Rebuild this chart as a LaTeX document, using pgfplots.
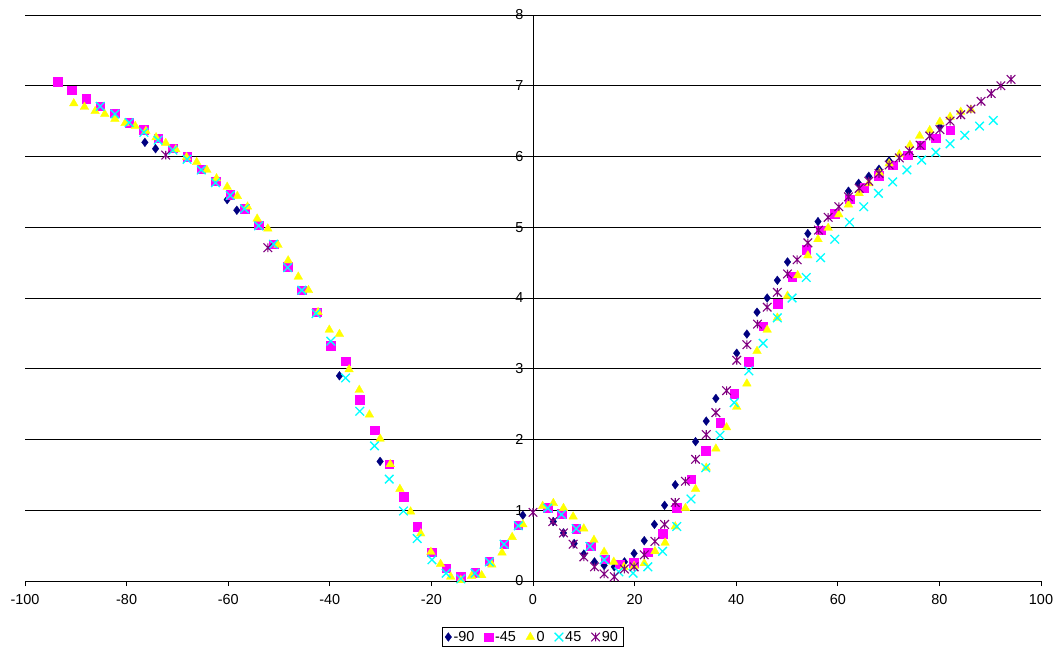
\documentclass[border=0pt]{standalone}
\usepackage{fontspec}
\setmainfont{Liberation Sans}
\usepackage{pgfplots}
\pgfplotsset{compat=1.18}
\definecolor{cnavy}{HTML}{000080}
\definecolor{cmag}{HTML}{FF00FF}
\definecolor{cyel}{HTML}{FFFF00}
\definecolor{ccyan}{HTML}{00FFFF}
\definecolor{cpurp}{HTML}{800080}
\pgfdeclareplotmark{xcross}{%
  \pgfpathmoveto{\pgfqpoint{-\pgfplotmarksize}{-\pgfplotmarksize}}%
  \pgfpathlineto{\pgfqpoint{\pgfplotmarksize}{\pgfplotmarksize}}%
  \pgfpathmoveto{\pgfqpoint{-\pgfplotmarksize}{\pgfplotmarksize}}%
  \pgfpathlineto{\pgfqpoint{\pgfplotmarksize}{-\pgfplotmarksize}}%
  \pgfusepathqstroke}
\pgfdeclareplotmark{xstar}{%
  \pgfpathmoveto{\pgfqpoint{-\pgfplotmarksize}{-\pgfplotmarksize}}%
  \pgfpathlineto{\pgfqpoint{\pgfplotmarksize}{\pgfplotmarksize}}%
  \pgfpathmoveto{\pgfqpoint{-\pgfplotmarksize}{\pgfplotmarksize}}%
  \pgfpathlineto{\pgfqpoint{\pgfplotmarksize}{-\pgfplotmarksize}}%
  \pgfpathmoveto{\pgfqpoint{0pt}{-\pgfplotmarksize}}%
  \pgfpathlineto{\pgfqpoint{0pt}{\pgfplotmarksize}}%
  \pgfusepathqstroke}
\begin{document}
\begin{tikzpicture}
\useasboundingbox (-25bp,-70bp) rectangle (1030bp,581bp);
\begin{axis}[
  at={(0,0)}, anchor=south west, scale only axis,
  width=1016bp, height=566bp,
  xmin=-100, xmax=100, ymin=0, ymax=8,
  axis x line=bottom, axis y line=middle,
  hide obscured x ticks=false, hide obscured y ticks=false,
  xtick={-100,-80,-60,-40,-20,0,20,40,60,80,100},
  xticklabels={-100,-80,-60,-40,-20,0,20,40,60,80,100},
  ytick={0,1,2,3,4,5,6,7,8},
  yticklabels={0,1,2,3,4,5,6,7,8},
  ymajorgrids, grid style={black, line width=0.75bp},
  axis line style={black, line width=0.75bp, -},
  tick style={black, line width=0.75bp},
  tick align=outside, major tick length=5bp,
  xticklabel style={font=\fontsize{14.5}{16}\selectfont, yshift=-5bp},
  yticklabel style={font=\fontsize{14.5}{16}\selectfont, xshift=-1bp},
  legend style={at={(0.4995,-0.099)}, anchor=center, legend columns=5,
    draw=black, line width=0.75bp, font=\fontsize{14.5}{16}\selectfont,
    inner xsep=3bp, inner ysep=1.5bp,
    /tikz/every even column/.append style={column sep=8bp}},
]
\addplot[only marks, mark=diamond*, mark size=4.4bp, mark options={draw=cnavy, fill=cnavy, line width=0.3bp}] coordinates {
(-76.4,6.20) (-74.3,6.11) (-60.2,5.39) (-58.3,5.24) (-38.1,2.90) (-30.1,1.69)
(-2.0,0.93) (4.0,0.84) (6.0,0.68) (8.1,0.53) (10.0,0.38) (12.1,0.27) (14.0,0.22)
(16.0,0.20) (18.0,0.27) (19.9,0.39) (21.9,0.57) (23.9,0.80) (25.9,1.07) (28.0,1.36)
(32.0,1.97) (34.1,2.26) (36.0,2.58) (40.1,3.22) (42.1,3.49) (44.1,3.80) (46.1,4.00)
(48.1,4.25) (50.1,4.51) (54.1,4.91) (56.1,5.08) (62.1,5.51) (64.1,5.62) (66.1,5.72)
(68.1,5.82) (70.1,5.94) (80.1,6.42)
};
\addlegendentry{-90}
\addplot[only marks, mark=square*, mark size=4.3bp, mark options={draw=cmag, fill=cmag, line width=0.3bp}] coordinates {
(-93.6,7.06) (-90.8,6.94) (-88.0,6.82) (-85.2,6.71) (-82.3,6.61) (-79.5,6.48)
(-76.6,6.38) (-73.8,6.26) (-70.9,6.12) (-68.1,6.00) (-65.3,5.82) (-62.5,5.65)
(-59.6,5.46) (-56.8,5.26) (-54.0,5.03) (-51.1,4.76) (-48.3,4.44) (-45.5,4.11)
(-42.6,3.80) (-39.8,3.33) (-36.9,3.11) (-34.1,2.56) (-31.2,2.13) (-28.3,1.65)
(-25.5,1.19) (-22.8,0.77) (-19.9,0.41) (-17.1,0.18) (-14.2,0.07) (-11.4,0.12)
(-8.6,0.28) (-5.7,0.52) (-2.9,0.79) (2.9,1.04) (5.6,0.95) (8.5,0.74) (11.3,0.49)
(14.2,0.31) (17.0,0.24) (19.8,0.26) (22.6,0.41) (25.5,0.67) (28.3,1.04) (31.1,1.44)
(34.0,1.84) (36.8,2.24) (39.6,2.65) (42.5,3.10) (45.3,3.60) (48.1,3.92) (51.0,4.30)
(53.8,4.68) (56.6,4.96) (59.4,5.19) (62.3,5.40) (65.2,5.56) (68.0,5.73) (70.8,5.88)
(73.7,6.02) (76.4,6.16) (79.3,6.26) (82.1,6.37)
};
\addlegendentry{-45}
\addplot[only marks, mark=triangle*, mark size=5bp, mark options={draw=cyel, fill=cyel, line width=0.3bp}] coordinates {
(-90.4,6.75) (-88.3,6.70) (-86.2,6.64) (-84.3,6.60) (-82.3,6.53) (-80.3,6.47)
(-78.3,6.43) (-76.2,6.36) (-74.2,6.27) (-72.3,6.19) (-70.3,6.10) (-68.2,5.99)
(-66.2,5.92) (-64.2,5.81) (-62.3,5.69) (-60.2,5.57) (-58.2,5.44) (-56.2,5.29)
(-54.3,5.12) (-52.2,4.98) (-50.2,4.75) (-48.2,4.53) (-46.2,4.30) (-44.2,4.11)
(-42.3,3.80) (-40.1,3.55) (-38.1,3.49) (-36.2,2.99) (-34.2,2.70) (-32.2,2.35)
(-30.1,2.01) (-28.1,1.65) (-26.2,1.30) (-24.1,0.98) (-22.1,0.67) (-20.1,0.41)
(-18.2,0.24) (-16.2,0.06) (-14.2,0.01) (-12.1,0.07) (-10.1,0.08) (-8.1,0.23)
(-6.1,0.40) (-4.1,0.62) (-2.0,0.80) (1.9,1.06) (4.0,1.10) (6.0,1.03) (7.9,0.91)
(10.0,0.74) (12.0,0.58) (14.0,0.41) (15.9,0.27) (17.9,0.20) (19.9,0.21) (21.9,0.25)
(24.0,0.42) (26.0,0.54) (28.0,0.77) (30.0,1.03) (32.0,1.30) (34.1,1.60) (36.0,1.87)
(38.1,2.17) (40.1,2.46) (42.1,2.79) (44.1,3.25) (46.1,3.55) (48.1,3.72) (50.1,4.03)
(52.1,4.32) (54.1,4.60) (56.1,4.83) (58.1,4.99) (60.2,5.18) (62.1,5.32) (64.2,5.48)
(66.1,5.62) (68.2,5.77) (70.1,5.90) (72.1,6.03) (74.2,6.16) (76.1,6.29) (78.1,6.37)
(80.1,6.49) (82.1,6.56) (84.2,6.63) (86.2,6.66)
};
\addlegendentry{0}
\addplot[only marks, mark=xcross, mark size=4.3bp, mark options={draw=ccyan, line width=1.3bp}] coordinates {
(-85.2,6.71) (-82.3,6.60) (-79.5,6.48) (-76.6,6.34) (-73.8,6.23) (-70.9,6.09)
(-68.1,5.96) (-65.3,5.81) (-62.5,5.63) (-59.6,5.45) (-56.8,5.26) (-54.0,5.02)
(-51.1,4.76) (-48.3,4.43) (-45.5,4.11) (-42.7,3.78) (-39.8,3.39) (-36.9,2.87)
(-34.1,2.40) (-31.2,1.91) (-28.3,1.44) (-25.5,0.99) (-22.8,0.60) (-19.9,0.30)
(-17.1,0.11) (-14.2,0.03) (-11.4,0.11) (-8.6,0.27) (-5.7,0.52) (-2.9,0.78)
(2.9,1.03) (5.6,0.94) (8.5,0.74) (11.2,0.49) (14.0,0.30) (16.9,0.13) (19.7,0.11)
(22.6,0.20) (25.5,0.42) (28.3,0.77) (31.1,1.16) (34.0,1.60) (36.8,2.06) (39.6,2.52)
(42.5,2.97) (45.3,3.36) (48.1,3.72) (51.0,4.00) (53.8,4.29) (56.6,4.57) (59.4,4.83)
(62.3,5.07) (65.1,5.29) (68.0,5.48) (70.8,5.64) (73.6,5.81) (76.5,5.95) (79.3,6.06)
(82.1,6.18) (85.0,6.30) (87.9,6.43) (90.6,6.51)
};
\addlegendentry{45}
\addplot[only marks, mark=xstar, mark size=4.3bp, mark options={draw=cpurp, line width=1.1bp}] coordinates {
(-72.3,6.02) (-52.2,4.71) (0.0,0.97) (3.9,0.84) (6.0,0.68) (7.9,0.52) (10.0,0.34)
(12.1,0.20) (14.0,0.10) (16.0,0.06) (18.0,0.17) (19.9,0.20) (21.9,0.37) (24.0,0.56)
(25.9,0.80) (28.0,1.11) (30.0,1.41) (32.0,1.72) (34.1,2.07) (36.0,2.38) (38.1,2.69)
(40.1,3.12) (42.1,3.34) (44.2,3.63) (46.1,3.87) (48.1,4.08) (50.1,4.34) (52.0,4.54)
(54.1,4.78) (56.2,4.96) (58.1,5.14) (60.2,5.29) (62.1,5.43) (64.2,5.55) (66.1,5.65)
(68.1,5.76) (70.1,5.88) (72.1,5.98) (74.1,6.08) (76.2,6.16) (78.1,6.29) (80.1,6.38)
(82.1,6.50) (84.2,6.59) (86.2,6.67) (88.2,6.78) (90.2,6.89) (92.1,7.00) (94.1,7.09)
};
\addlegendentry{90}
\end{axis}
\end{tikzpicture}
\end{document}
